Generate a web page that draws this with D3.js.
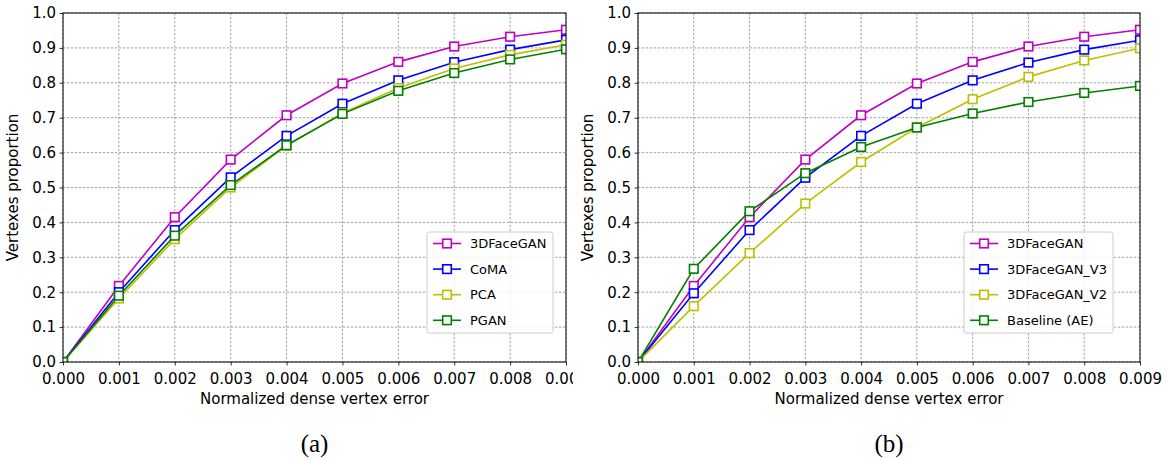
<!DOCTYPE html>
<html>
<head>
<meta charset="utf-8">
<script src="https://cdn.jsdelivr.net/npm/d3@7"></script>
<style>
  body { margin: 0; background: #fff; }
  svg { display: block; }
  text { font-family: "DejaVu Sans", sans-serif; fill: #000; }
</style>
</head>
<body>
<svg id="chart" width="1168" height="461"></svg>
<script>
// ---------- data ----------
const xValues = [0, 0.001, 0.002, 0.003, 0.004, 0.005, 0.006, 0.007, 0.008, 0.009];
const xTicks = [0, 0.001, 0.002, 0.003, 0.004, 0.005, 0.006, 0.007, 0.008, 0.009];
const yTicks = [0, 0.1, 0.2, 0.3, 0.4, 0.5, 0.6, 0.7, 0.8, 0.9, 1.0];

// panel (a)
const a_3DFaceGAN = [0, 0.218, 0.415, 0.580, 0.707, 0.798, 0.860, 0.904, 0.932, 0.952];
const a_CoMA      = [0, 0.200, 0.378, 0.529, 0.648, 0.740, 0.807, 0.859, 0.895, 0.923];
const a_PCA       = [0, 0.182, 0.352, 0.500, 0.620, 0.713, 0.785, 0.841, 0.880, 0.909];
const a_PGAN      = [0, 0.190, 0.362, 0.507, 0.621, 0.711, 0.777, 0.828, 0.867, 0.896];

// panel (b)
const b_3DFaceGAN    = [0, 0.218, 0.415, 0.580, 0.707, 0.798, 0.860, 0.904, 0.932, 0.952];
const b_3DFaceGAN_V3 = [0, 0.197, 0.378, 0.528, 0.648, 0.740, 0.807, 0.858, 0.895, 0.922];
const b_3DFaceGAN_V2 = [0, 0.160, 0.312, 0.454, 0.573, 0.672, 0.753, 0.817, 0.864, 0.899];
const b_Baseline     = [0, 0.267, 0.432, 0.541, 0.616, 0.672, 0.712, 0.745, 0.771, 0.791];

const panelA = [
  { name: "3DFaceGAN", values: a_3DFaceGAN, color: "#bf00bf" },
  { name: "CoMA",      values: a_CoMA,      color: "#0000ff" },
  { name: "PCA",       values: a_PCA,       color: "#bfbf00" },
  { name: "PGAN",      values: a_PGAN,      color: "#008000" }
];
const panelB = [
  { name: "3DFaceGAN",    values: b_3DFaceGAN,    color: "#bf00bf" },
  { name: "3DFaceGAN_V3", values: b_3DFaceGAN_V3, color: "#0000ff" },
  { name: "3DFaceGAN_V2", values: b_3DFaceGAN_V2, color: "#bfbf00" },
  { name: "Baseline (AE)",values: b_Baseline,     color: "#008000" }
];

// ---------- drawing ----------
const svg = d3.select("#chart");
const defs = svg.append("defs");
const FS = 15;

function drawPanel(cfg) {
  const { id, series, left, right, top, bottom, clipRight, legend, caption } = cfg;
  const x = d3.scaleLinear().domain([0, 0.009]).range([left, right]);
  const y = d3.scaleLinear().domain([0, 1]).range([bottom, top]);

  defs.append("clipPath").attr("id", "outer" + id)
    .append("rect").attr("x", 0).attr("y", 0).attr("width", clipRight).attr("height", 461);
  defs.append("clipPath").attr("id", "plot" + id)
    .append("rect").attr("x", left).attr("y", top).attr("width", right - left).attr("height", bottom - top);

  const g = svg.append("g").attr("clip-path", clipRight ? `url(#outer${id})` : null);

  // grid
  const grid = g.append("g");
  grid.selectAll("line.gx").data(xTicks).join("line")
    .attr("x1", d => x(d)).attr("x2", d => x(d))
    .attr("y1", top).attr("y2", bottom)
    .attr("stroke", "#8c8c8c").attr("stroke-width", 0.8).attr("stroke-dasharray", "2.4,1.6");
  grid.selectAll("line.gy").data(yTicks).join("line")
    .attr("y1", d => y(d)).attr("y2", d => y(d))
    .attr("x1", left).attr("x2", right)
    .attr("stroke", "#8c8c8c").attr("stroke-width", 0.8).attr("stroke-dasharray", "2.4,1.6");

  // series
  const plot = g.append("g").attr("clip-path", `url(#plot${id})`);
  const line = d3.line().x((d, i) => x(xValues[i])).y(d => y(d));
  series.forEach(s => {
    plot.append("path").datum(s.values)
      .attr("d", line).attr("fill", "none")
      .attr("stroke", s.color).attr("stroke-width", 1.6);
    plot.selectAll(null).data(s.values).join("rect")
      .attr("x", (d, i) => x(xValues[i]) - 4.3)
      .attr("y", d => y(d) - 4.3)
      .attr("width", 8.6).attr("height", 8.6)
      .attr("fill", "#fff").attr("stroke", s.color).attr("stroke-width", 1.6);
  });

  // axes
  const xAxis = d3.axisBottom(x).tickValues(xTicks).tickFormat(d3.format(".3f")).tickSize(3.5).tickPadding(7.5);
  const yAxis = d3.axisLeft(y).tickValues(yTicks).tickFormat(d3.format(".1f")).tickSize(3.5).tickPadding(3.5);
  const gx = g.append("g").attr("transform", `translate(0,${bottom})`).call(xAxis);
  const gy = g.append("g").attr("transform", `translate(${left},0)`).call(yAxis);
  [gx, gy].forEach(a => {
    a.select(".domain").remove();
    a.selectAll("line").attr("stroke", "#000").attr("stroke-width", 0.8);
    a.selectAll("text").attr("font-size", FS).attr("font-family", "DejaVu Sans, sans-serif").attr("fill", "#000");
  });

  // frame
  g.append("rect").attr("x", left).attr("y", top)
    .attr("width", right - left).attr("height", bottom - top)
    .attr("fill", "none").attr("stroke", "#000").attr("stroke-width", 1);

  // axis titles
  g.append("text").attr("x", (left + right) / 2).attr("y", 404)
    .attr("text-anchor", "middle").attr("font-size", FS)
    .text("Normalized dense vertex error");
  g.append("text")
    .attr("transform", `translate(${left - 45},${(top + bottom) / 2}) rotate(-90)`)
    .attr("text-anchor", "middle").attr("font-size", FS)
    .text("Vertexes proportion");

  // legend
  const lg = g.append("g");
  lg.append("rect").attr("x", legend.x).attr("y", legend.y)
    .attr("width", legend.w).attr("height", legend.h).attr("rx", 2.5)
    .attr("fill", "#fff").attr("fill-opacity", 0.85)
    .attr("stroke", "#cccccc").attr("stroke-width", 1);
  series.forEach((s, i) => {
    const cy = legend.y + 11.5 + i * 25.6;
    const hx = legend.x + 6;
    lg.append("line").attr("x1", hx).attr("x2", hx + 28).attr("y1", cy).attr("y2", cy)
      .attr("stroke", s.color).attr("stroke-width", 1.6);
    lg.append("rect").attr("x", hx + 14 - 4.3).attr("y", cy - 4.3)
      .attr("width", 8.6).attr("height", 8.6)
      .attr("fill", "#fff").attr("stroke", s.color).attr("stroke-width", 1.6);
    lg.append("text").attr("x", hx + 37).attr("y", cy).attr("dy", "0.36em")
      .attr("font-size", 13).text(s.name);
  });

  // caption
  svg.append("text").attr("x", (left + right) / 2).attr("y", 452)
    .attr("text-anchor", "middle")
    .style("font-family", "'Liberation Serif', 'Times New Roman', serif")
    .attr("font-size", 25).text(caption);
}

drawPanel({ id: "a", series: panelA, left: 63, right: 566, top: 13, bottom: 362, clipRight: 573,
  legend: { x: 427, y: 232, w: 126, h: 101 }, caption: "(a)" });
drawPanel({ id: "b", series: panelB, left: 638, right: 1140, top: 13, bottom: 362, clipRight: null,
  legend: { x: 964, y: 232, w: 149, h: 101 }, caption: "(b)" });
</script>
</body>
</html>
